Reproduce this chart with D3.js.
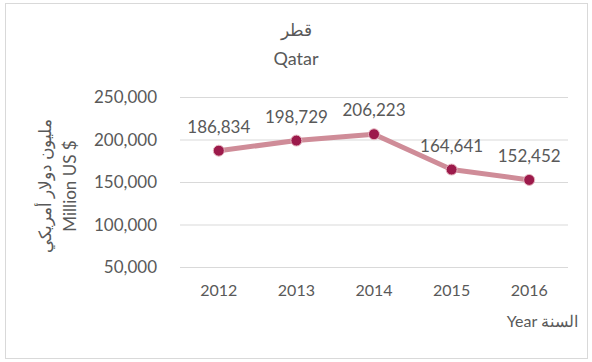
<!DOCTYPE html>
<html>
<head>
<meta charset="utf-8">
<script src="https://cdn.jsdelivr.net/npm/d3@7"></script>
<style>
  body { margin: 0; background: #fff; }
  svg { display: block; }
  text { font-family: Lato, "Open Sans", sans-serif; fill: #595959; }
</style>
</head>
<body>
<svg id="chart" width="592" height="362"></svg>
<script>
// Qatar, million US $ by year
const years = ["2012", "2013", "2014", "2015", "2016"];
const values = [186834, 198729, 206223, 164641, 152452];
const yTicks = [50000, 100000, 150000, 200000, 250000];

const svg = d3.select("#chart");
const plot = { left: 180, right: 568, top: 97, bottom: 267 };
const arabicFont = "'Noto Sans', 'DejaVu Sans', sans-serif";

// outer frame
svg.append("rect")
  .attr("x", 5.5).attr("y", 3.5)
  .attr("width", 582).attr("height", 355)
  .attr("fill", "#fff").attr("stroke", "#d9d9d9");

const x = d3.scaleBand().domain(years).range([plot.left, plot.right]);
const y = d3.scaleLinear().domain([50000, 250000]).range([plot.bottom, plot.top]);

// gridlines + y labels
const yAxis = d3.axisLeft(y).tickValues(yTicks).tickSize(-(plot.right - plot.left))
  .tickPadding(23).tickFormat(d3.format(","));
const gy = svg.append("g").attr("transform", `translate(${plot.left},0)`).call(yAxis);
gy.select(".domain").remove();
gy.selectAll("line").attr("stroke", "#d9d9d9").attr("stroke-width", 1);
gy.selectAll("text").attr("font-size", 17).attr("fill", "#595959").attr("dy", "0.35em");

// x labels
const xAxis = d3.axisBottom(x).tickSize(0).tickPadding(18);
const gx = svg.append("g").attr("transform", `translate(0,${plot.bottom})`).call(xAxis);
gx.select(".domain").remove();
gx.selectAll("text").attr("font-size", 16).attr("fill", "#595959");

// series line
const cx = (d, i) => x(years[i]) + x.bandwidth() / 2;
const line = d3.line().x(cx).y(d => y(d));
svg.append("path").datum(values)
  .attr("d", line).attr("fill", "none")
  .attr("stroke", "#cf8c98").attr("stroke-width", 5)
  .attr("stroke-linejoin", "round").attr("stroke-linecap", "round");

// markers
svg.selectAll("circle.pt").data(values).join("circle")
  .attr("class", "pt")
  .attr("cx", cx)
  .attr("cy", d => y(d))
  .attr("r", 5.5)
  .attr("fill", "#9c1a4b")
  .attr("stroke", "#e6b8c1").attr("stroke-width", 1);

// value labels
svg.selectAll("text.val").data(values).join("text")
  .attr("class", "val")
  .attr("x", cx)
  .attr("y", d => y(d) - 18)
  .attr("text-anchor", "middle")
  .attr("font-size", 17)
  .text(d => d3.format(",")(d));

// title
svg.append("text").attr("x", 296).attr("y", 36).attr("text-anchor", "middle")
  .attr("font-size", 17).attr("font-family", arabicFont)
  .text("قطر");
svg.append("text").attr("x", 296).attr("y", 65).attr("text-anchor", "middle")
  .attr("font-size", 18).text("Qatar");

// y axis title (two lines, rotated)
const yt = svg.append("g").attr("transform", "translate(56,186) rotate(-90)");
yt.append("text").attr("x", 0).attr("y", -5).attr("text-anchor", "middle")
  .attr("font-size", 17).attr("font-family", arabicFont)
  .text("مليون دولار أمريكي");
yt.append("text").attr("x", 0).attr("y", 20).attr("text-anchor", "middle")
  .attr("font-size", 17).text("Million US $");

// x axis title: English word on the left, Arabic on the right
svg.append("text").attr("x", 578).attr("y", 327).attr("text-anchor", "end")
  .attr("font-size", 16).attr("direction", "ltr")
  .text("Year السنة");
</script>
</body>
</html>
